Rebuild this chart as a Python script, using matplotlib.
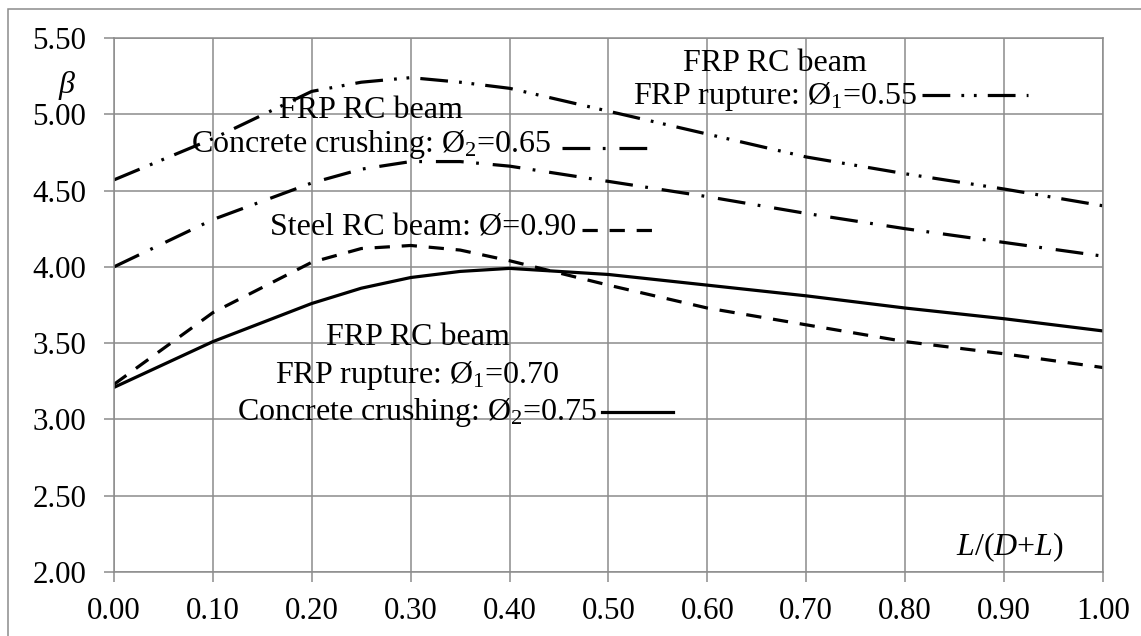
import numpy as np
import matplotlib
matplotlib.use("Agg")
import matplotlib.pyplot as plt
from matplotlib.lines import Line2D
from matplotlib.patches import Rectangle

plt.rcParams['font.family'] = ['Liberation Serif', 'DejaVu Serif']
plt.rcParams['mathtext.fontset'] = 'custom'
plt.rcParams['mathtext.rm'] = 'Liberation Serif'
plt.rcParams['mathtext.it'] = 'Liberation Serif:italic'
plt.rcParams['lines.scale_dashes'] = False

#%% datos -------------------------------------------------------------------
ratio = [0.0, 0.1, 0.2, 0.25, 0.3, 0.35, 0.4, 0.5, 0.6, 0.7, 0.8, 0.9, 1.0]

beta_frp_055 = [4.57, 4.84, 5.15, 5.21, 5.24, 5.21, 5.17, 5.02, 4.87, 4.72, 4.61, 4.51, 4.40]
beta_frp_065 = [4.00, 4.31, 4.55, 4.64, 4.69, 4.69, 4.66, 4.56, 4.46, 4.35, 4.25, 4.16, 4.07]
beta_steel   = [3.23, 3.70, 4.03, 4.12, 4.14, 4.11, 4.04, 3.88, 3.73, 3.62, 3.51, 3.43, 3.34]
beta_frp_070 = [3.21, 3.51, 3.76, 3.86, 3.93, 3.97, 3.99, 3.95, 3.88, 3.81, 3.73, 3.66, 3.58]

xticks = np.round(np.arange(0, 1.01, 0.1), 2)
yticks = np.round(np.arange(2.0, 5.51, 0.5), 2)

#%% estilos ------------------------------------------------------------------
lw = 2.3
dash_dd = (0, (20, 8, 2, 7, 2, 8))
dash_d = (0, (20, 9, 2, 10))
dash_s = (0, (11, 8.5))

fig = plt.figure(figsize=(11.41, 6.36), dpi=100)
ax = fig.add_axes([0.0999, 0.1006, 0.8668, 0.8397])

ax.plot(ratio, beta_frp_055, color='black', lw=lw, linestyle=dash_dd)
ax.plot(ratio, beta_frp_065, color='black', lw=lw, linestyle=dash_d)
ax.plot(ratio, beta_steel, color='black', lw=lw, linestyle=dash_s)
ax.plot(ratio, beta_frp_070, color='black', lw=lw, linestyle='-')

ax.set_xlim(0, 1)
ax.set_ylim(2, 5.5)
ax.set_xticks(xticks)
ax.set_yticks(yticks)
ax.set_xticklabels(['%.2f' % v for v in xticks])
ax.set_yticklabels(['%.2f' % v for v in yticks])
ax.grid(True, color='#8c8c8c', lw=1.1)
ax.set_axisbelow(True)
for s in ax.spines.values():
    s.set_color('#8c8c8c')
    s.set_linewidth(1.1)
ax.tick_params(axis='both', colors='#8c8c8c', labelcolor='black', length=7,
               width=1.1, labelsize=22.3)
ax.tick_params(axis='y', pad=13)
ax.tick_params(axis='x', pad=11)

#%% etiquetas ---------------------------------------------------------------
fs = 23
tr = ax.transAxes
ax.text(0.668, 0.953, 'FRP RC beam', transform=tr, ha='center', va='center', fontsize=fs)
ax.text(0.668, 0.891, r'FRP rupture: Ø$_1$=0.55', transform=tr, ha='center', va='center', fontsize=fs)
ax.add_line(Line2D([0.817, 0.924], [0.893, 0.893], transform=tr, color='black', lw=lw, linestyle=dash_dd))

ax.text(0.260, 0.865, 'FRP RC beam', transform=tr, ha='center', va='center', fontsize=fs)
ax.text(0.260, 0.800, r'Concrete crushing: Ø$_2$=0.65', transform=tr, ha='center', va='center', fontsize=fs)
ax.add_line(Line2D([0.453, 0.545], [0.794, 0.794], transform=tr, color='black', lw=lw, linestyle=dash_d))

ax.text(0.313, 0.644, r'Steel RC beam: Ø=0.90', transform=tr, ha='center', va='center', fontsize=fs)
ax.add_line(Line2D([0.473, 0.546], [0.640, 0.640], transform=tr, color='black', lw=lw, linestyle=dash_s))

ax.text(0.307, 0.440, 'FRP RC beam', transform=tr, ha='center', va='center', fontsize=fs)
ax.text(0.307, 0.368, r'FRP rupture: Ø$_1$=0.70', transform=tr, ha='center', va='center', fontsize=fs)
ax.text(0.307, 0.299, r'Concrete crushing: Ø$_2$=0.75', transform=tr, ha='center', va='center', fontsize=fs)
ax.add_line(Line2D([0.493, 0.565], [0.299, 0.299], transform=tr, color='black', lw=lw, linestyle='-'))

ax.text(0.906, 0.047, r'$L$/($D$+$L$)', transform=tr, ha='center', va='center', fontsize=fs)
fig.text(67 / 1141, 1 - 85 / 636, r'$\beta$', ha='center', va='center', fontsize=fs)

# borde del grafico
fig.patches.append(Rectangle((8 / 1141, -0.1), 1.2, 1 - 9 / 636 + 0.1, transform=fig.transFigure,
                             fill=False, edgecolor='#8c8c8c', lw=1.1))

fig.savefig('out.png', dpi=100)
